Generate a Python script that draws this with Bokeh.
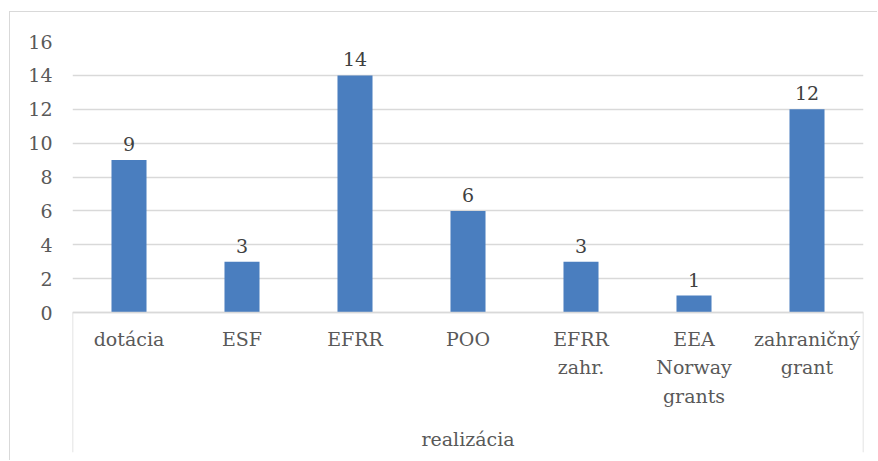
from bokeh.plotting import figure
from bokeh.models import Range1d, FixedTicker, ColumnDataSource, CategoricalAxis
from bokeh.core.properties import value
from bokeh.embed import file_html
from bokeh.resources import INLINE

categories = ["dotácia", "ESF", "EFRR", "POO", "EFRR\nzahr.", "EEA\nNorway\ngrants", "zahraničný\ngrant"]
values = [9, 3, 14, 6, 3, 1, 12]
group_label = "realizácia"
y_ticks = [0, 2, 4, 6, 8, 10, 12, 14, 16]

FONT = "DejaVu Serif"
FS = "19px"

# layout (pixels, relative to figure origin)
W, H = 868, 449
frame_left, frame_right = 62, 853
frame_top, zero_px, frame_bottom = 29, 300, 440
ppu = (zero_px - frame_top) / 16.0
y_min = -(frame_bottom - zero_px) / ppu

p = figure(x_range=categories, y_range=Range1d(y_min, 16),
           width=W, height=H, output_backend="svg", toolbar_location=None,
           min_border_left=frame_left, min_border_right=W - frame_right,
           min_border_top=frame_top, min_border_bottom=H - frame_bottom,
           x_axis_location=None)
p.margin = (12, 0, 0, 10)
p.styles = {"box-shadow": "-1px -1px 0 0 #d9d9d9"}
p.outline_line_color = None
p.x_range.range_padding = 0

src = ColumnDataSource(dict(x=categories, top=values, lab=[str(v) for v in values]))
p.vbar(x="x", top="top", width=0.31, source=src, fill_color="#4a7ebf", line_color=None)
p.text(x="x", y="top", text="lab", source=src, text_font=value(FONT), text_font_size=FS,
       text_color="#404040", text_align="center", text_baseline="alphabetic", y_offset=-16)

# y axis
p.yaxis.ticker = FixedTicker(ticks=y_ticks)
p.yaxis.bounds = (0, 16)
p.yaxis.axis_line_color = None
p.yaxis.major_tick_line_color = None
p.yaxis.minor_tick_line_color = None
p.yaxis.major_label_text_font = FONT
p.yaxis.major_label_text_font_size = FS
p.yaxis.major_label_text_color = "#595959"
p.yaxis.major_label_standoff = 14

p.ygrid.bounds = (0, 16)
p.ygrid.grid_line_color = "#d9d9d9"
p.ygrid.grid_line_width = 1.5
p.xgrid.grid_line_color = None

# category axis at y = 0
xa = CategoricalAxis(fixed_location=0)
xa.axis_line_color = "#d9d9d9"
xa.axis_line_width = 1.5
xa.major_tick_line_color = None
xa.minor_tick_line_color = None
xa.major_label_text_font = FONT
xa.major_label_text_font_size = FS
xa.major_label_text_color = "#595959"
xa.major_label_standoff = 9
xa.major_label_text_line_height = 1.3
p.add_layout(xa, "below")

# group separators and group label
p.segment(x0=[(categories[0], -0.5), (categories[-1], 0.5)],
          x1=[(categories[0], -0.5), (categories[-1], 0.5)],
          y0=[0, 0], y1=[y_min, y_min], line_color="#d9d9d9", line_width=1.5)
p.text(x=[categories[3]], y=[0], text=[group_label], text_font=value(FONT), text_font_size=FS,
       text_color="#595959", text_align="center", text_baseline="middle", y_offset=126)

open("out.html", "w").write(file_html(p, INLINE))
